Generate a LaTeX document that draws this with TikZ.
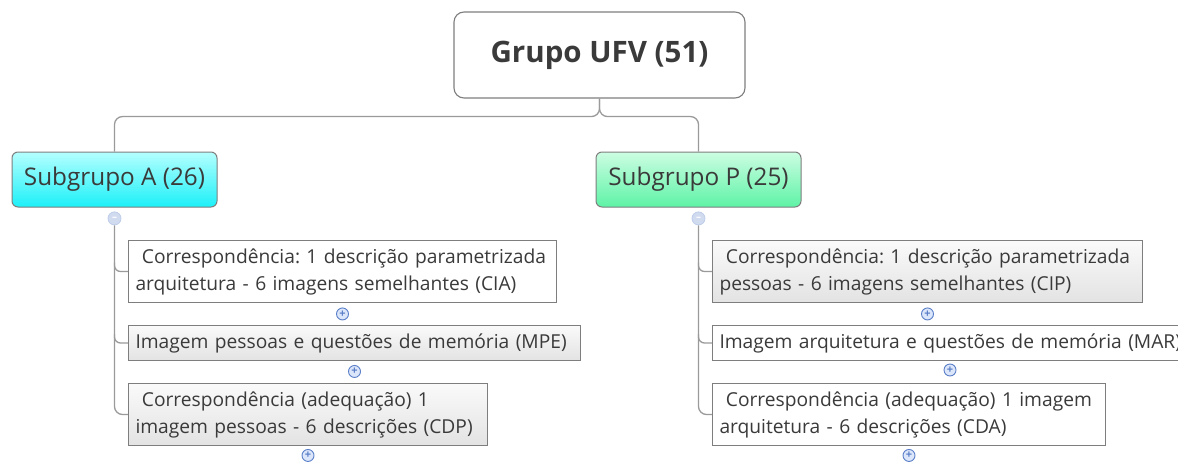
\documentclass[tikz,border=0pt]{standalone}
\usepackage{fontspec}
\setmainfont{Open Sans}
\frenchspacing
\usetikzlibrary{positioning}
\definecolor{linkgray}{HTML}{9A9A9A}
\definecolor{boxgray}{HTML}{7E7E7E}
\definecolor{txtgray}{HTML}{3A3A3A}
\definecolor{cyantop}{HTML}{B4FFFF}
\definecolor{cyanbot}{HTML}{1CF0F8}
\definecolor{greentop}{HTML}{CCFDE2}
\definecolor{greenbot}{HTML}{5EF3A6}
\definecolor{btnblue}{HTML}{5A7FC8}
\definecolor{btnfill}{HTML}{DCE6FA}
\tikzset{
  rootbox/.style={draw=boxgray, line width=1.1pt, rounded corners=10pt, fill=white,
    minimum width=291pt, minimum height=86pt, text=txtgray,
    font=\fontsize{29.5}{33}\selectfont\bfseries},
  subbox/.style={draw=boxgray, line width=1pt, rounded corners=6pt,
    minimum width=205pt, minimum height=55pt, text=txtgray,
    font=\fontsize{24.3}{28}\selectfont},
  leafbox/.style={draw=boxgray, line width=1pt, align=left, inner xsep=7pt,
    text=txtgray, font=\fontsize{19.2}{27}\selectfont, anchor=north west},
  graybox/.style={leafbox, top color=black!2, bottom color=black!11},
  whitebox/.style={leafbox, fill=white},
  plusbtn/.style={circle, draw=btnblue, fill=btnfill, line width=0.9pt,
    minimum size=12pt, inner sep=0pt, text=btnblue, font=\fontsize{11}{11}\selectfont\bfseries},
  minusbtn/.style={circle, draw=btnblue!40, fill=btnblue!28, line width=0.8pt,
    minimum size=13pt, inner sep=0pt, text=white, font=\fontsize{10}{10}\selectfont\bfseries},
  link/.style={draw=linkgray, line width=1.3pt}
}
\begin{document}
\begin{tikzpicture}[x=1pt,y=-1pt]
  \useasboundingbox (0,0) rectangle (1178,461);
  % root
  \node[rootbox] (rt) at (599.5,55) {Grupo UFV (51)};
  % subgroups
  \node[subbox, top color=cyantop, bottom color=cyanbot] (sa) at (114.5,179.5) {Subgrupo A (26)};
  \node[subbox, top color=greentop, bottom color=greenbot] (sp) at (698.5,179.5) {Subgrupo P (25)};
  \draw[link, rounded corners=8pt] (rt.south) -- ++(0,18) -| (sa.north);
  \draw[link, rounded corners=8pt] (rt.south) -- ++(0,18) -| (sp.north);
  \node[minusbtn, below=4pt of sa] (ma) {--};
  \node[minusbtn, below=4pt of sp] (mp) {--};
  % subgrupo A
  \node[whitebox, text width=414pt, minimum height=62pt] (a1) at (128,240)
    {\ Correspondência: 1 descrição parametrizada\\arquitetura - 6 imagens semelhantes (CIA)};
  \node[graybox, text width=438pt, minimum height=35pt] (a2) at (128,325)
    {\mbox{Imagem pessoas e questões de memória (MPE)}};
  \node[graybox, text width=345pt, minimum height=62pt] (a3) at (128,383)
    {\ Correspondência (adequação) 1\\imagem pessoas - 6 descrições (CDP)};
  \draw[link, rounded corners=8pt] (ma.south) |- (a3.west);
  \draw[link, rounded corners=6pt] (ma.south |- a1.west) ++(0,-9) |- (a1.west);
  \draw[link, rounded corners=6pt] (ma.south |- a2.west) ++(0,-9) |- (a2.west);
  \node[plusbtn, below=4.5pt of a1] (pa1) {+};
  \node[plusbtn, below=4pt of a2] (pa2) {+};
  \node[plusbtn, below=3pt of a3] (pa3) {+};
  % subgrupo P
  \node[graybox, text width=416pt, minimum height=62pt] (p1) at (712,240)
    {\ Correspondência: 1 descrição parametrizada\\pessoas - 6 imagens semelhantes (CIP)};
  \node[whitebox, text width=490pt, minimum height=35pt] (p2) at (712,325)
    {Imagem arquitetura e questões de memória (MAR)};
  \node[whitebox, text width=379pt, minimum height=62pt] (p3) at (712,383)
    {\ Correspondência (adequação) 1 imagem\\arquitetura - 6 descrições (CDA)};
  \draw[link, rounded corners=8pt] (mp.south) |- (p3.west);
  \draw[link, rounded corners=6pt] (mp.south |- p1.west) ++(0,-9) |- (p1.west);
  \draw[link, rounded corners=6pt] (mp.south |- p2.west) ++(0,-9) |- (p2.west);
  \node[plusbtn, below=4.5pt of p1] (pp1) {+};
  \node[plusbtn] (pp2) at (950,370) {+};
  \node[plusbtn, below=3pt of p3] (pp3) {+};
\end{tikzpicture}
\end{document}
